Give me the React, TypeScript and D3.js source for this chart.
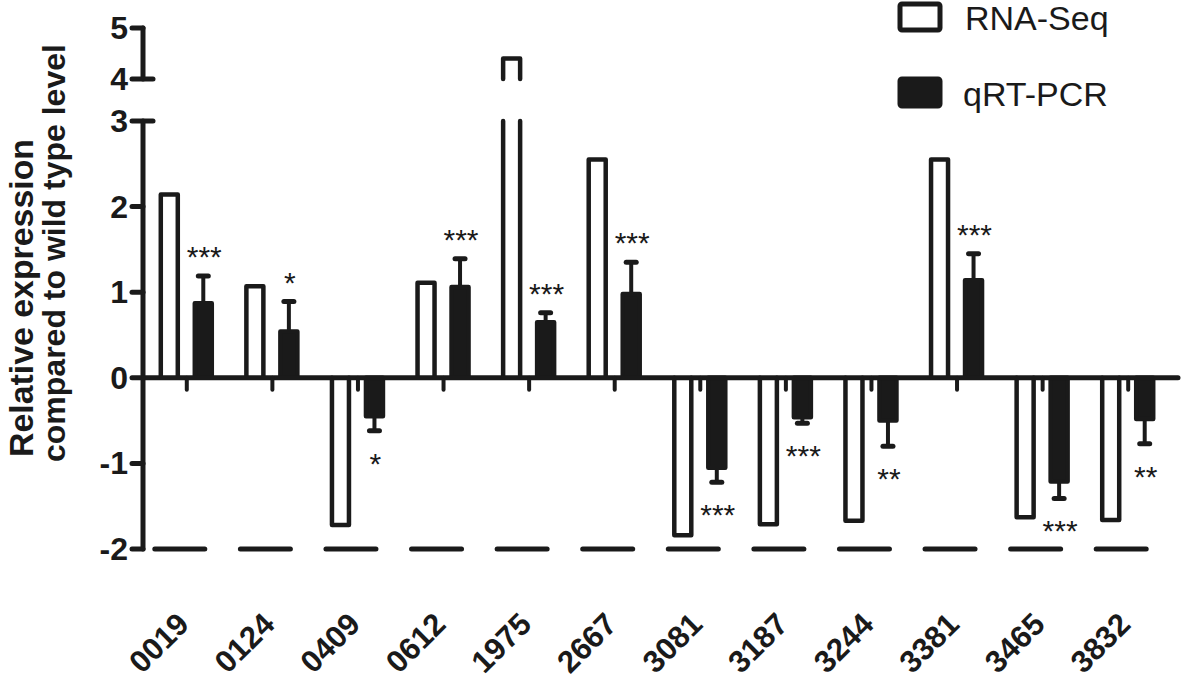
import React from 'react';
import * as d3 from 'd3';

const genes = ['0019', '0124', '0409', '0612', '1975', '2667', '3081', '3187', '3244', '3381', '3465', '3832'];
const rnaSeq = [2.14, 1.07, -1.72, 1.11, 4.4, 2.55, -1.84, -1.71, -1.67, 2.55, -1.63, -1.66];
const qrtPcr = [0.87, 0.54, -0.45, 1.06, 0.65, 0.98, -1.05, -0.46, -0.5, 1.14, -1.21, -0.48];
const qrtErr = [0.32, 0.35, 0.17, 0.33, 0.11, 0.37, 0.17, 0.07, 0.3, 0.31, 0.2, 0.29];
const stars = ['***', '*', '*', '***', '***', '***', '***', '***', '**', '***', '***', '**'];
const lowerTicks = [-2, -1, 0, 1, 2, 3];
const upperTicks = [4, 5];
const series = ['RNA-Seq', 'qRT-PCR'];

const INK = '#1a1a1a';
const FONT = '"Liberation Sans", Arial, Helvetica, sans-serif';

const App = () => {
  // broken y axis: two linear pieces
  const yLow = d3.scaleLinear().domain([-2, 3]).range([549, 121]);
  const yHigh = d3.scaleLinear().domain([4, 5]).range([79, 28]);
  const y = (v) => (v <= 3 ? yLow(v) : yHigh(v));

  const x = d3.scaleBand().domain(genes).range([144, 1171]);
  const inner = d3.scaleBand().domain(series).range([-26, 25]).paddingInner(0.5);
  const bw = inner.bandwidth();
  const cx = (g) => x(g) + x.bandwidth() / 2;
  const axisX = 143;
  const y0 = y(0);

  const barPath = (left, v) => {
    const right = left + bw;
    return `M${left},${y0}L${left},${y(v)}L${right},${y(v)}L${right},${y0}`;
  };

  return (
    <svg
      width={1181}
      height={680}
      style={{ position: 'absolute', left: 0, top: 0, background: '#fff' }}
      fontFamily={FONT}
    >
      {/* y axis title */}
      <g fontWeight="bold" fontSize={33} fill={INK}>
        <text transform="translate(33,457) rotate(-90)" textLength={318} lengthAdjust="spacingAndGlyphs">
          Relative expression
        </text>
        <text transform="translate(65,462) rotate(-90)" fontSize={32}>
          compared to wild type level
        </text>
      </g>

      {/* bottom dashed axis at -2 */}
      {genes.map((g) => (
        <line
          key={'d' + g}
          x1={cx(g) - 32}
          x2={cx(g) + 18}
          y1={yLow(-2)}
          y2={yLow(-2)}
          stroke={INK}
          strokeWidth={5}
          strokeLinecap="round"
        />
      ))}

      {/* bars */}
      {genes.map((g, i) => {
        const c = cx(g);
        const lx = c + inner('RNA-Seq');
        const qx = c + inner('qRT-PCR');
        const v = rnaSeq[i];
        const q = qrtPcr[i];
        const e = q >= 0 ? q + qrtErr[i] : q - qrtErr[i];
        const qc = qx + bw / 2;
        const starY = q >= 0 ? y(e) - 26 + 17 : y(e) + 26 + 17;
        return (
          <g key={g}>
            {v > 3 ? (
              <g fill="none" stroke={INK} strokeWidth={4.5} strokeLinecap="round" strokeLinejoin="round">
                <rect x={lx} y={y(3)} width={bw} height={y0 - y(3)} fill="#fff" stroke="none" />
                <path d={`M${lx},${y0}L${lx},${y(3)}M${lx + bw},${y(3)}L${lx + bw},${y0}`} />
                <path d={`M${lx},${y(4)}L${lx},${y(v)}L${lx + bw},${y(v)}L${lx + bw},${y(4)}`} fill="#fff" />
              </g>
            ) : (
              <path
                d={barPath(lx, v)}
                fill="#fff"
                stroke={INK}
                strokeWidth={4.5}
                strokeLinecap="round"
                strokeLinejoin="round"
              />
            )}
            <line x1={qc} x2={qc} y1={y(q)} y2={y(e)} stroke={INK} strokeWidth={4} />
            <line
              x1={qc - 5}
              x2={qc + 5}
              y1={y(e)}
              y2={y(e)}
              stroke={INK}
              strokeWidth={5}
              strokeLinecap="round"
            />
            <path
              d={barPath(qx, q) + 'Z'}
              fill={INK}
              stroke={INK}
              strokeWidth={4.5}
              strokeLinejoin="round"
            />
            <text x={qc + 1} y={starY} textAnchor="middle" fontSize={30} fill={INK}>
              {stars[i]}
            </text>
          </g>
        );
      })}

      {/* zero line and its ticks */}
      <line x1={axisX} x2={1178} y1={y0} y2={y0} stroke={INK} strokeWidth={5} strokeLinecap="round" />
      {genes.map((g) => (
        <line
          key={'t' + g}
          x1={cx(g)}
          x2={cx(g)}
          y1={y0}
          y2={y0 + 12}
          stroke={INK}
          strokeWidth={4}
          strokeLinecap="round"
        />
      ))}

      {/* y axis pieces */}
      <g stroke={INK} strokeWidth={5} strokeLinecap="round">
        <line x1={axisX} x2={axisX} y1={yLow(3)} y2={yLow(-2)} />
        <line x1={axisX} x2={axisX} y1={yHigh(5)} y2={yHigh(4)} />
        {lowerTicks.map((t) => (
          <line key={'yl' + t} x1={132} x2={t === 3 ? 153 : axisX} y1={yLow(t)} y2={yLow(t)} />
        ))}
        {upperTicks.map((t) => (
          <line key={'yh' + t} x1={132} x2={t === 4 ? 153 : axisX} y1={yHigh(t)} y2={yHigh(t)} />
        ))}
      </g>
      <g fontWeight="bold" fontSize={32} fill={INK} textAnchor="end">
        {lowerTicks.map((t) => (
          <text key={'ll' + t} x={128} y={yLow(t) + 11}>
            {t}
          </text>
        ))}
        {upperTicks.map((t) => (
          <text key={'lh' + t} x={128} y={yHigh(t) + 11}>
            {t}
          </text>
        ))}
      </g>

      {/* x labels */}
      <g fontWeight="bold" fontSize={31} fill={INK} textAnchor="end">
        {genes.map((g) => (
          <text key={'x' + g} transform={`translate(${cx(g) + 4},626) rotate(-45)`}>
            {g}
          </text>
        ))}
      </g>

      {/* legend */}
      <g>
        <rect x={900} y={4} width={40} height={26} rx={2} fill="#fff" stroke={INK} strokeWidth={5} />
        <rect x={900} y={79} width={40} height={27} rx={2} fill={INK} stroke={INK} strokeWidth={5} />
        <text x={965} y={30} fontSize={34} fill={INK}>
          {series[0]}
        </text>
        <text x={963} y={106} fontSize={34} fill={INK}>
          {series[1]}
        </text>
      </g>
    </svg>
  );
};

export default App;
